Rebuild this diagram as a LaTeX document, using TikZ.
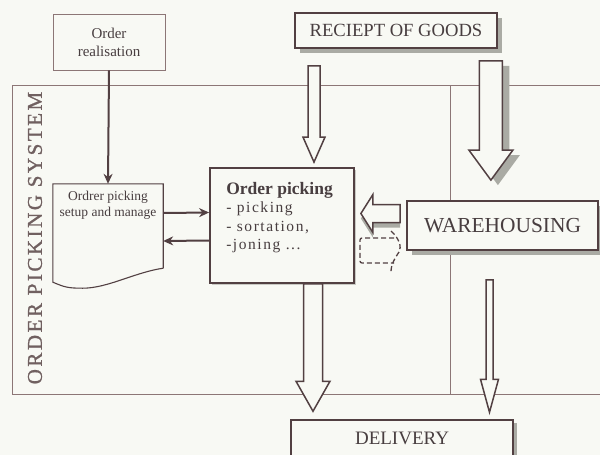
\documentclass[tikz,border=0pt]{standalone}
\usepackage{fontspec}
\setmainfont{Liberation Serif}
\usepackage{tikz}
\usetikzlibrary{positioning, arrows.meta, calc, shadows}
\definecolor{paper2}{RGB}{248,249,244}
\definecolor{ink2}{RGB}{82,64,66}
\definecolor{frame2}{RGB}{140,118,118}
\definecolor{text2}{RGB}{72,62,64}
\definecolor{title2}{RGB}{112,96,96}
\definecolor{shade2}{RGB}{170,171,164}

\newcommand{\blockarrow}[6][]{%
  \coordinate (ah) at ($(#3)!#6!(#2)$);
  \draw[blockline, #1] ($(#2)!#4!90:(#3)$) -- ($(ah)!#4!90:(#3)$) -- ($(ah)!#5!90:(#3)$) -- (#3)
    -- ($(ah)!#5!-90:(#3)$) -- ($(ah)!#4!-90:(#3)$) -- ($(#2)!#4!-90:(#3)$) -- cycle;
}

\begin{document}
\begin{tikzpicture}[x=1pt, y=-1pt,
  every node/.style={text=text2},
  bigbox/.style={draw=ink2, line width=1.8pt, fill=paper2, inner sep=0pt},
  smallbox/.style={draw=frame2, line width=0.9pt, fill=paper2, inner sep=0pt},
  blockline/.style={draw=ink2, line width=1.5pt, fill=paper2, line join=miter},
  thinarrow/.style={draw=ink2, line width=2pt, -{Stealth[length=10pt,width=9pt]}},
  boxshadow/.style={drop shadow={shadow xshift=5pt, shadow yshift=-5pt, fill=shade2, opacity=1}},
  dashline/.style={ink2, line width=1.3pt, dash pattern=on 5pt off 3pt}
]
	\useasboundingbox (0,0) rectangle (600,455);
	\fill[paper2] (0,0) rectangle (600,455);

	\draw[frame2, line width=1pt] (610,85) -- (12,85) -- (12,394) -- (610,394);
	\draw[frame2, line width=1pt] (450,85) -- (450,394);
	\node[rotate=90, text=title2, font=\fontsize{21}{21}\selectfont\addfontfeature{LetterSpace=12,FakeBold=1}] (systitle) at (35,238) {ORDER PICKING SYSTEM};

	\node[smallbox, minimum width=112, minimum height=56, align=center, font=\fontsize{15}{18}\selectfont] (realis) at (109,42) {Order\\realisation};

	\node[minimum width=110, minimum height=84, inner sep=0pt] (setup) at (108,226) {};
	\draw[ink2, line width=1.1pt, fill=paper2] (setup.south east) -- (setup.north east) -- (setup.north west) -- (setup.south west) -- ++(0,14)
		.. controls +(12,5) and +(-15,0) .. ++(30,6) .. controls +(25,0) and +(-28,4) .. (setup.south east);
	\node[below=4pt of setup.north, align=center, font=\fontsize{13.5}{16}\selectfont] (setuptext) {Ordrer picking\\setup and manage};

	\node[bigbox, minimum width=144, minimum height=115, drop shadow={shadow xshift=2pt, shadow yshift=-2pt, fill=shade2, opacity=0.6}] (picking) at (282,225.5) {};
	\node[anchor=north west, align=left, inner sep=0pt, font=\fontsize{15.5}{18.5}\selectfont\addfontfeature{LetterSpace=10}] (pickingtext) at ([xshift=17pt,yshift=-15pt]picking.north west)
		{{\fontsize{17.5}{18.5}\selectfont\addfontfeature{LetterSpace=0}\bfseries Order picking}\\- picking\\- sortation,\\-joning ...};

	\node[bigbox, boxshadow, minimum width=202, minimum height=35, font=\fontsize{18.6}{20}\selectfont] (receipt) at (396,30.5) {RECIEPT OF GOODS};
	\node[bigbox, boxshadow, minimum width=191, minimum height=49, font=\fontsize{21.4}{22}\selectfont] (warehouse) at (502.5,225.5) {WAREHOUSING};
	\node[bigbox, drop shadow={shadow xshift=4pt, shadow yshift=-3pt, fill=shade2, opacity=1}, line width=1.5pt, minimum width=222, minimum height=36, font=\fontsize{19}{20}\selectfont] (delivery) at (402,438) {DELIVERY};

	\draw[thinarrow] (realis.south) -- (setup.north);
	\draw[thinarrow] ([yshift=13pt]setup.east) -- ([yshift=13pt]picking.west);
	\draw[thinarrow] ([yshift=-15pt]picking.west) -- ([yshift=-15pt]setup.east);

	\coordinate (rA) at ($(picking.north |- receipt.south)+(32,17)$);
	\coordinate (rAend) at ($(picking.north)+(32,-5)$);
	\blockarrow{rA}{rAend}{6pt}{11pt}{25pt}

	\coordinate (rB) at ($(receipt.south east)+(-7,12)$);
	\coordinate (rBend) at ($(rB |- warehouse.north)+(0,-20)$);
	\blockarrow[drop shadow={shadow xshift=7pt, shadow yshift=-5pt, fill=shade2, opacity=1}]{rB}{rBend}{11.5pt}{22pt}{30pt}

	\coordinate (wA) at ($(warehouse.west)+(-6,-12)$);
	\coordinate (wAend) at ($(picking.east)+(6,-12)$);
	\blockarrow[drop shadow={shadow xshift=0pt, shadow yshift=-5pt, fill=shade2, opacity=1}]{wA}{wAend}{9pt}{19pt}{12pt}

	\coordinate (pA) at ($(picking.south)+(31,0)$);
	\coordinate (pAend) at ($(pA |- delivery.north)+(0,-8)$);
	\blockarrow{pA}{pAend}{9.5pt}{17pt}{30pt}

	\coordinate (wB) at ($(warehouse.south)+(-13,29)$);
	\coordinate (wBend) at ($(wB |- delivery.north)+(0,-7)$);
	\blockarrow{wB}{wBend}{3.5pt}{9pt}{33pt}

	\draw[dashline, rounded corners=2pt] (394,238) -- (360,238) -- (360,263) -- (394,263);
	\draw[dashline] (391,231) .. controls (399,238) and (402,247) .. (399,252) .. controls (395,258) and (391,264) .. (391,272);
\end{tikzpicture}
\end{document}
